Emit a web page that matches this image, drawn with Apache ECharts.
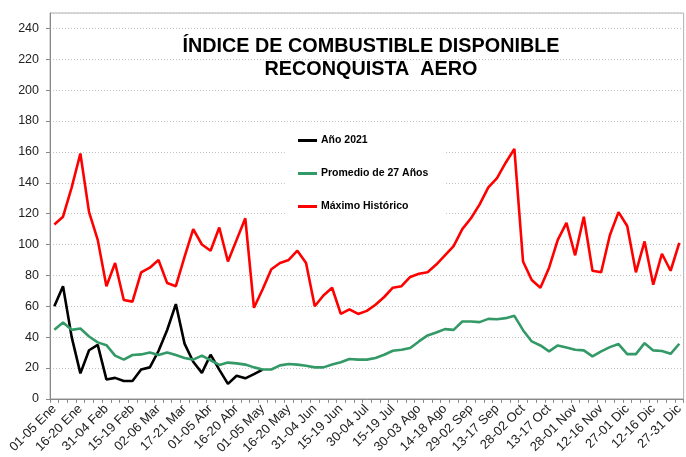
<!DOCTYPE html>
<html>
<head>
<meta charset="utf-8">
<script src="https://cdn.jsdelivr.net/npm/echarts@6/dist/echarts.min.js"></script>
<style>
  html, body { margin: 0; padding: 0; background: #fff; }
  #chart { width: 686px; height: 457px; }
</style>
</head>
<body>
<div id="chart"></div>
<script>
const FONT = '"Liberation Sans", Arial, sans-serif'

const pentads = [
  '01-05 Ene', '06-10 Ene', '11-15 Ene', '16-20 Ene', '21-25 Ene', '26-30 Ene',
  '31-04 Feb', '05-09 Feb', '10-14 Feb', '15-19 Feb', '20-24 Feb', '25-01 Mar',
  '02-06 Mar', '07-11 Mar', '12-16 Mar', '17-21 Mar', '22-26 Mar', '27-31 Mar',
  '01-05 Abr', '06-10 Abr', '11-15 Abr', '16-20 Abr', '21-25 Abr', '26-30 Abr',
  '01-05 May', '06-10 May', '11-15 May', '16-20 May', '21-25 May', '26-30 May',
  '31-04 Jun', '05-09 Jun', '10-14 Jun', '15-19 Jun', '20-24 Jun', '25-29 Jun',
  '30-04 Jul', '05-09 Jul', '10-14 Jul', '15-19 Jul', '20-24 Jul', '25-29 Jul',
  '30-03 Ago', '04-08 Ago', '09-13 Ago', '14-18 Ago', '19-23 Ago', '24-28 Ago',
  '29-02 Sep', '03-07 Sep', '08-12 Sep', '13-17 Sep', '18-22 Sep', '23-27 Sep',
  '28-02 Oct', '03-07 Oct', '08-12 Oct', '13-17 Oct', '18-22 Oct', '23-27 Oct',
  '28-01 Nov', '02-06 Nov', '07-11 Nov', '12-16 Nov', '17-21 Nov', '22-26 Nov',
  '27-01 Dic', '02-06 Dic', '07-11 Dic', '12-16 Dic', '17-21 Dic', '22-26 Dic',
  '27-31 Dic'
]

// Año 2021 (only up to early May)
const anio2021 = [
  60, 73, 40, 16.5, 31.5, 35, 12.6, 13.6, 11.6, 11.6, 19, 20.4,
  31, 44.6, 61.4, 35.8, 24, 16.8, 28.6, 18.9, 9.7, 15, 13.3, 16, 19
]

const promedio27 = [
  44.7, 49.5, 44.7, 45.6, 40.4, 36.6, 34.8, 28, 25.4, 28.4, 28.8, 30.1,
  28.4, 30.1, 28.4, 26.5, 25.4, 28, 25, 22, 23.5, 23, 22.2, 20.4,
  19, 19, 21.7, 22.6, 22.2, 21.5, 20.4, 20.4, 22.2, 23.7, 25.8, 25.4,
  25.4, 26.5, 28.6, 31.2, 31.8, 32.9, 37.2, 41.1, 43, 45.2, 44.7, 50.1,
  50.1, 49.7, 51.8, 51.6, 52.3, 53.8, 44.5, 37.2, 34.6, 30.8, 34.6, 33.3,
  31.8, 31.4, 27.5, 30.8, 33.5, 35.5, 29, 29, 36.1, 31.4, 31, 29.2,
  35.7
]

const maximoHistorico = [
  113, 118, 137, 159, 121, 103, 73, 88, 64, 63, 82, 85,
  90, 75, 73, 92, 110, 100, 96, 111, 89, 103, 117, 59,
  71, 84, 88, 90, 96, 88, 60, 67, 72, 55, 58, 55,
  57, 61, 66, 72, 73, 79, 81, 82, 87, 93, 99, 110,
  117, 126, 137, 143, 153, 162, 89, 77, 72, 85, 103, 114,
  93, 118, 83, 82, 106, 121, 112, 82, 102, 74, 94, 83,
  101
]

const titleText = 'ÍNDICE DE COMBUSTIBLE DISPONIBLE\nRECONQUISTA  AERO'

const chart = echarts.init(document.getElementById('chart'), null, { renderer: 'canvas' })

function lineSeries(name, data, color) {
  return {
    name,
    type: 'line',
    data,
    symbol: 'none',
    smooth: false,
    lineStyle: { color, width: 2.6 },
    itemStyle: { color },
    emphasis: { disabled: true },
    z: 3
  }
}

chart.setOption({
  animation: false,
  backgroundColor: '#fff',
  textStyle: { fontFamily: FONT },
  title: {
    text: titleText,
    left: 371,
    top: 35,
    padding: 0,
    textAlign: 'center',
    textStyle: {
      fontFamily: FONT,
      fontSize: 19.8,
      fontWeight: 'bold',
      color: '#000',
      lineHeight: 23
    }
  },
  legend: {
    orient: 'vertical',
    left: 285,
    top: 127,
    padding: [8, 16, 8, 13],
    backgroundColor: '#fff',
    icon: 'rect',
    itemWidth: 19,
    itemHeight: 3,
    itemGap: 22,
    textStyle: { fontFamily: FONT, fontSize: 10.5, fontWeight: 'bold', color: '#000', padding: [0, 0, 0, -1] },
    data: ['Año 2021', 'Promedio de 27 Años', 'Máximo Histórico'],
    z: 10
  },
  grid: {
    left: 50,
    right: 1,
    top: 13,
    bottom: 58,
    show: true,
    borderColor: '#b0b0b0',
    borderWidth: 1,
    containLabel: false
  },
  xAxis: {
    type: 'category',
    data: pentads,
    boundaryGap: true,
    axisLine: { lineStyle: { color: '#888', width: 1 } },
    axisTick: { show: true, interval: 0, length: 4, lineStyle: { color: '#888' } },
    axisLabel: {
      interval: 2,
      rotate: 45,
      margin: 8,
      fontFamily: FONT,
      fontSize: 13,
      color: '#222'
    },
    splitLine: { show: false }
  },
  yAxis: {
    type: 'value',
    min: 0,
    max: 250,
    interval: 20,
    axisLine: { show: true, lineStyle: { color: '#888', width: 1 } },
    axisTick: { show: true, length: 4, lineStyle: { color: '#888' } },
    axisLabel: {
      showMaxLabel: false,
      margin: 11,
      fontFamily: FONT,
      fontSize: 12.5,
      color: '#222'
    },
    splitLine: { show: true, lineStyle: { color: '#c4c4c4', type: [1, 2], width: 1 } }
  },
  series: [
    lineSeries('Año 2021', anio2021, '#000000'),
    lineSeries('Promedio de 27 Años', promedio27, '#339966'),
    lineSeries('Máximo Histórico', maximoHistorico, '#ff0000')
  ]
})
</script>
</body>
</html>
